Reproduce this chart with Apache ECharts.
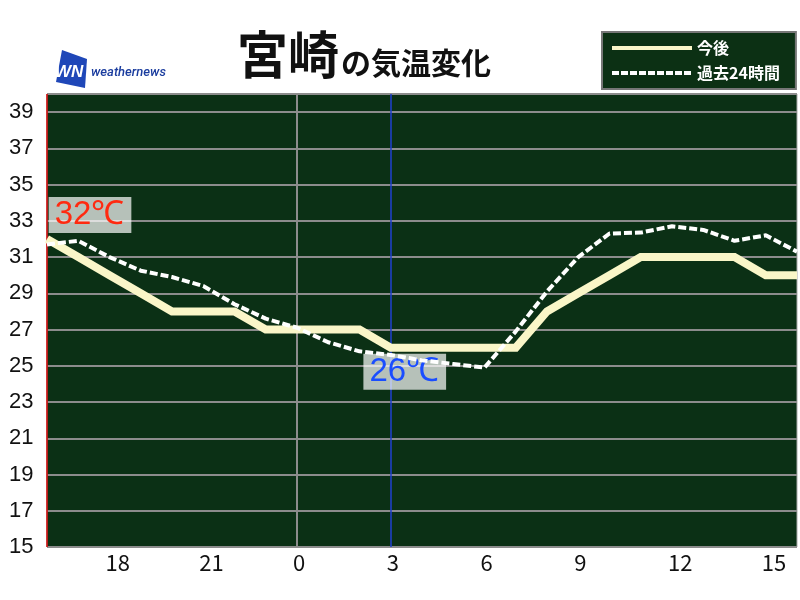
<!DOCTYPE html>
<html>
<head>
<meta charset="utf-8">
<script src="https://cdn.jsdelivr.net/npm/echarts@6/dist/echarts.min.js"></script>
<style>html,body{margin:0;padding:0;background:#fff}#c{width:800px;height:600px}</style>
</head>
<body>
<div id="c"></div>
<script>
// hours from 16:00 yesterday to 16:00 today
const hours = ['16','17','18','19','20','21','22','23','0','1','2','3','4','5','6','7','8','9','10','11','12','13','14','15','16'];
// 今後 (forecast)
const forecast = [32,31,30,29,28,28,28,27,27,27,27,26,26,26,26,26,28,29,30,31,31,31,31,30,30];
// 過去24時間 (past 24 hours)
const past24 = [31.7,31.9,31.0,30.25,29.9,29.4,28.4,27.6,27.1,26.3,25.8,25.6,25.3,25.1,24.9,26.9,29.1,31.0,32.3,32.35,32.7,32.5,31.9,32.2,31.3];
const yMin = 15, yMax = 40, yStep = 2;
const seriesNames = ['今後','過去24時間'];
const maxLabel = {index: 0, value: 32, text: '32℃'};
const minLabel = {index: 11, value: 26, text: '26℃'};
const dayStartIndex = hours.indexOf('0');
const nowIndex = 11;

const chart = echarts.init(document.getElementById('c'), null, {renderer: 'canvas'});
const option = {
  animation: false,
  backgroundColor: '#ffffff',
  title: {
    left: 232, top: 17,
    text: '{a|宮崎}{b|の気温変化}',
    textStyle: {
      rich: {
        a: {fontSize: 51, fontWeight: 'bold', fontFamily: 'Noto Sans CJK JP', color: '#111', lineHeight: 58, verticalAlign: 'bottom'},
        b: {fontSize: 30, fontWeight: 'bold', fontFamily: 'Noto Sans CJK JP', color: '#111', lineHeight: 58, verticalAlign: 'bottom', padding: [0,0,2,2]}
      }
    }
  },
  legend: {
    left: 602, top: 32, orient: 'vertical',
    padding: [8, 16, 8, 8],
    itemWidth: 80, itemHeight: 14, itemGap: 9,
    backgroundColor: '#0c3014', borderColor: '#777', borderWidth: 2,
    textStyle: {color: '#fff', fontSize: 16, fontWeight: 'bold', fontFamily: 'Noto Sans CJK JP'},
    itemStyle: {opacity: 0},
    data: [
      {name: seriesNames[0], lineStyle: {color: '#faf6c8', width: 4, type: 'solid'}},
      {name: seriesNames[1], lineStyle: {color: '#ffffff', width: 4, type: [7, 2]}}
    ]
  },
  graphic: [
    {type: 'polygon', shape: {points: [[62,50],[87,59],[85,88],[56,82]]}, style: {fill: '#1f47b8'}},
    {type: 'text', left: 55, top: 64, style: {text: 'WN', fill: '#fff', font: 'italic bold 17px "Liberation Sans"'}},
    {type: 'text', left: 91, top: 66, style: {text: 'weathernews', fill: '#1a3c9e', font: 'italic 500 13px Roboto'}}
  ],
  grid: {
    left: 47, right: 3, top: 94, bottom: 53,
    show: true, backgroundColor: '#0b3015', borderColor: '#aaa', borderWidth: 1
  },
  xAxis: {
    type: 'category', data: hours, boundaryGap: false,
    axisLine: {show: false}, axisTick: {show: false}, splitLine: {show: false},
    axisLabel: {
      interval: (i) => i % 3 === 2,
      align: 'left', padding: [0,0,0,-4], margin: 5,
      color: '#111', fontSize: 22, fontFamily: 'Noto Sans CJK JP'
    }
  },
  yAxis: {
    type: 'value', min: yMin, max: yMax, interval: yStep,
    axisLine: {show: false}, axisTick: {show: false},
    axisLabel: {showMaxLabel: false, showMinLabel: true, align: 'left', margin: 38, color: '#111', fontSize: 22, fontFamily: 'Liberation Sans'},
    splitLine: {lineStyle: {color: '#8c8c8c', width: 2}}
  },
  series: [
    {
      name: seriesNames[0], type: 'line', data: forecast, symbol: 'none', z: 2,
      lineStyle: {color: '#faf6c8', width: 8, join: 'miter'},
      itemStyle: {color: '#faf6c8'},
      markLine: {
        symbol: 'none', silent: true, label: {show: false}, z: 1,
        data: [
          {xAxis: 0, lineStyle: {color: '#d00000', width: 1.5, type: 'solid'}},
          {xAxis: dayStartIndex, lineStyle: {color: '#8c8c8c', width: 2, type: 'solid'}},
          {xAxis: nowIndex, lineStyle: {color: '#2040d0', width: 1.5, type: 'solid'}}
        ]
      },
      markPoint: {
        z: 1, symbol: 'circle', symbolSize: 1, itemStyle: {color: 'rgba(0,0,0,0)'},
        label: {
          show: true, position: 'inside', fontSize: 33, fontFamily: 'Liberation Sans',
          backgroundColor: 'rgba(255,255,255,0.7)', padding: [2, 7, 1, 6]
        },
        data: [
          {coord: [maxLabel.index, maxLabel.value], label: {formatter: maxLabel.text, color: '#ff2a10', offset: [43, -24]}},
          {coord: [minLabel.index, minLabel.value], label: {formatter: minLabel.text, color: '#1a4dff', offset: [14, 24]}}
        ]
      }
    },
    {
      name: seriesNames[1], type: 'line', data: past24, symbol: 'none', z: 3,
      lineStyle: {color: '#ffffff', width: 4, type: [8, 3]},
      itemStyle: {color: '#ffffff'}
    }
  ]
};
chart.setOption(option);
</script>
</body>
</html>
